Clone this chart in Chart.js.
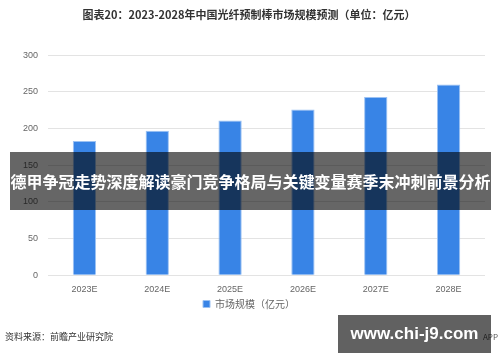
<!DOCTYPE html>
<html>
<head>
<meta charset="utf-8">
<script src="https://cdn.jsdelivr.net/npm/chart.js@4"></script>
<style>
  body { margin: 0; background: #fff; }
  #wrap { position: relative; width: 500px; height: 362px; overflow: hidden; font-family: "Noto Sans CJK SC", "Noto Sans", sans-serif; }
  #source { position: absolute; left: 5px; top: 330px; font-size: 9px; color: #333; }
  #banner { position: absolute; left: 10px; top: 152px; width: 481px; height: 58px; background: rgba(0,0,0,0.6);
            color: #fff; font-weight: bold; font-size: 16px; line-height: 58px; text-align: center; white-space: nowrap; }
  #app { position: absolute; right: 2px; top: 331px; font-size: 8px; color: #555; }
  #badge { position: absolute; left: 338px; top: 315px; width: 153px; height: 38px; background: rgba(0,0,0,0.62);
           color: #fff; font-weight: bold; font-size: 17px; line-height: 38px; text-align: center; white-space: nowrap;
           font-family: "Liberation Sans", Arial, sans-serif; }
</style>
</head>
<body>
<div id="wrap">
  <canvas id="chart" width="500" height="362"></canvas>
  <div id="source">资料来源：前瞻产业研究院</div>
  <div id="app">APP</div>
  <div id="banner">德甲争冠走势深度解读豪门竞争格局与关键变量赛季末冲刺前景分析</div>
  <div id="badge">www.chi-j9.com</div>
</div>
<script>
const years = ["2023E", "2024E", "2025E", "2026E", "2027E", "2028E"];
const marketSize = [183, 197, 211, 226, 243, 260];
const yTicks = [0, 50, 100, 150, 200, 250, 300];

const ctx = document.getElementById("chart").getContext("2d");
new Chart(ctx, {
  type: "bar",
  data: {
    labels: years,
    datasets: [
      {
        label: "市场规模（亿元）",
        data: marketSize,
        backgroundColor: "#3884e6",
        borderColor: "#9cc2f3",
        borderWidth: 1,
        barPercentage: 0.32,
        categoryPercentage: 1,
      },
    ],
  },
  options: {
    responsive: false,
    animation: false,
    layout: { padding: { left: 13, right: 15, top: 0, bottom: 43 } },
    plugins: {
      title: {
        display: true,
        text: "图表20：2023-2028年中国光纤预制棒市场规模预测（单位：亿元）",
        color: "#333",
        font: { size: 11, weight: "bold", family: "Noto Sans CJK SC" },
        padding: { top: 8, bottom: 34 },
      },
      legend: {
        position: "bottom",
        labels: {
          boxWidth: 7,
          boxHeight: 7,
          color: "#666",
          font: { size: 10, family: "Noto Sans CJK SC" },
          padding: 3,
        },
      },
      tooltip: { enabled: false },
    },
    scales: {
      x: {
        grid: { display: false },
        border: { display: false },
        ticks: { color: "#666", font: { size: 9 }, padding: 1 },
      },
      y: {
        min: 0,
        max: 300,
        afterBuildTicks: (axis) => {
          axis.ticks = yTicks.map((v) => ({ value: v }));
        },
        grid: { color: "#e3e3e3", drawTicks: false },
        border: { display: false },
        ticks: { color: "#666", font: { size: 9 }, padding: 10 },
      },
    },
  },
});
</script>
</body>
</html>
